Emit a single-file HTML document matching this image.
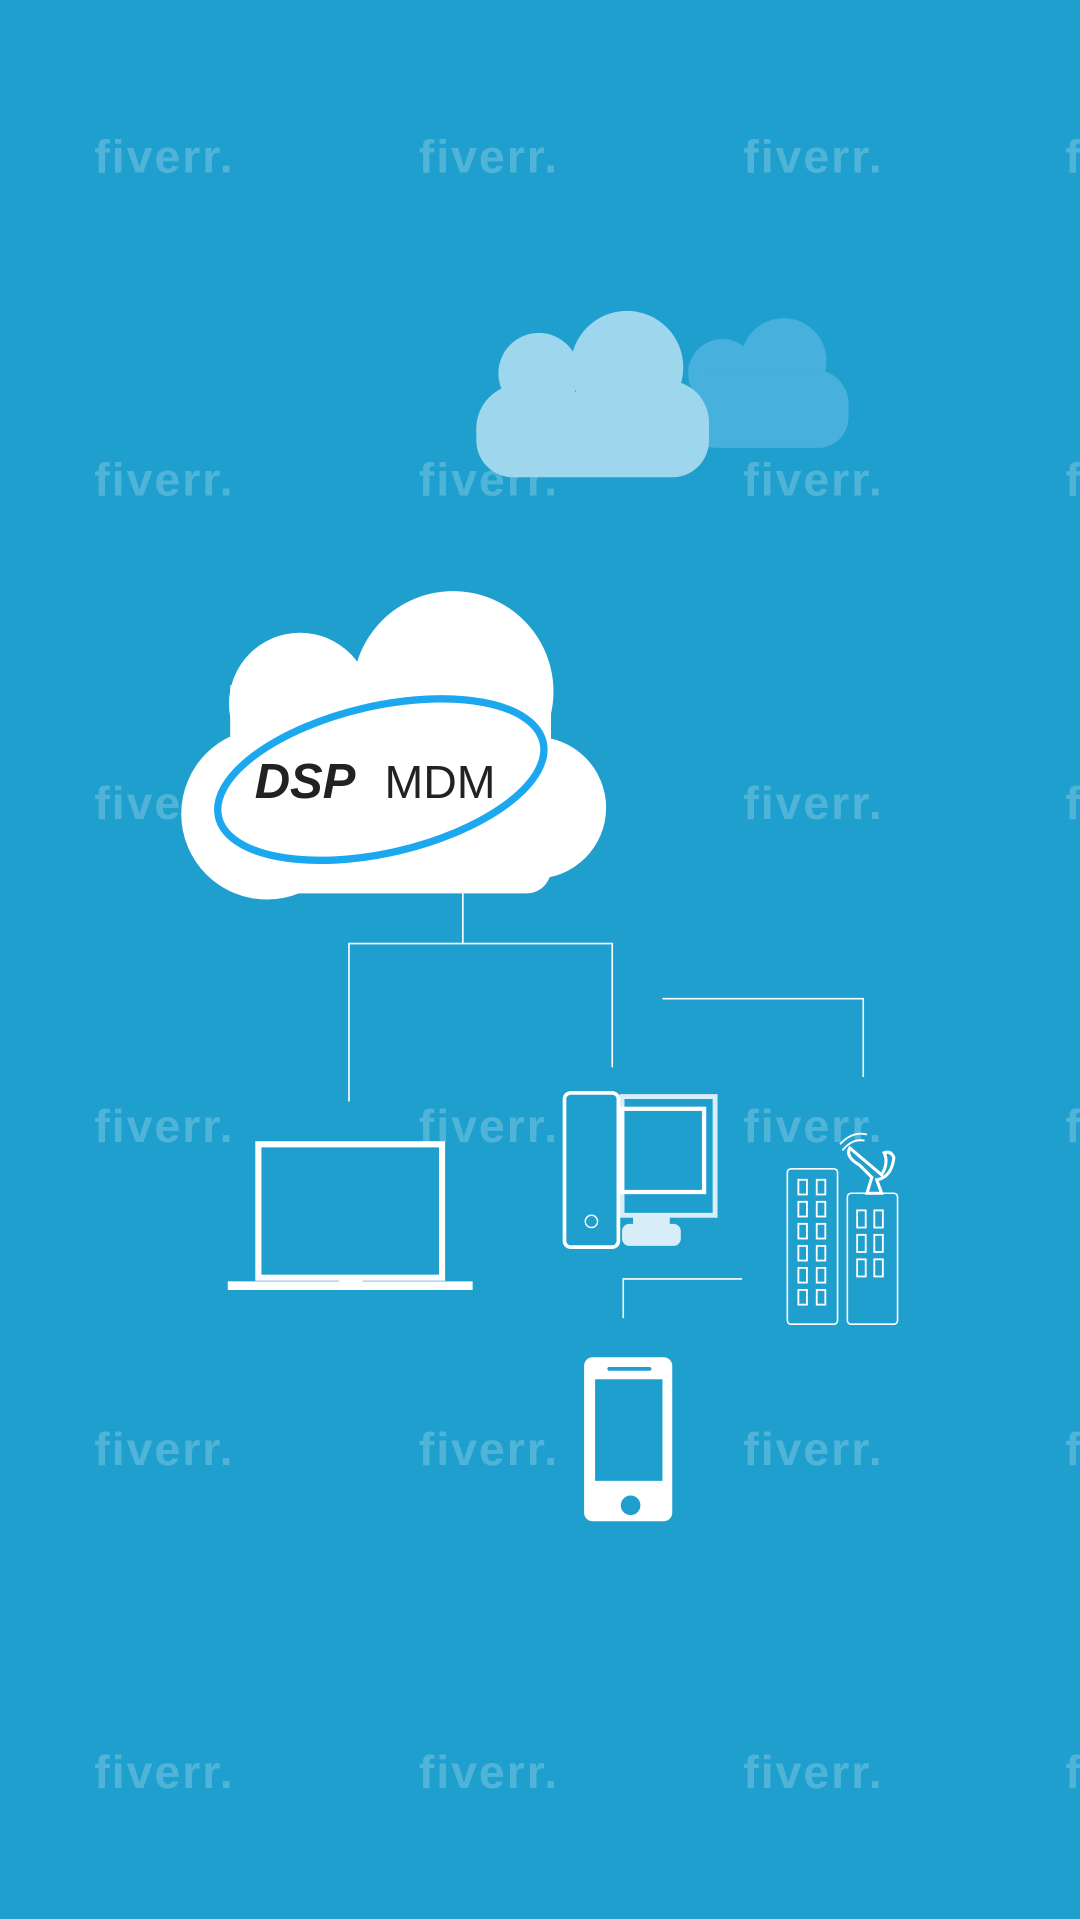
<!DOCTYPE html>
<html><head><style>
html,body{margin:0;padding:0;background:#1f9fcd;}
svg{display:block;}
</style></head><body>
<svg width="1080" height="1919" viewBox="0 0 882 1568" preserveAspectRatio="none" xmlns="http://www.w3.org/2000/svg">
<rect width="882" height="1568" fill="#1f9fcd"/>
<!-- watermarks -->
<g font-family="Liberation Sans, sans-serif" font-weight="bold" font-size="38" fill="#ffffff" fill-opacity="0.22">
<text x="77" y="141" textLength="113">fiverr.</text><text x="342" y="141" textLength="113">fiverr.</text><text x="607" y="141" textLength="113">fiverr.</text><text x="870" y="141" textLength="113">fiverr.</text>
<text x="77" y="405" textLength="113">fiverr.</text><text x="342" y="405" textLength="113">fiverr.</text><text x="607" y="405" textLength="113">fiverr.</text><text x="870" y="405" textLength="113">fiverr.</text>
<text x="77" y="669" textLength="113">fiverr.</text><text x="607" y="669" textLength="113">fiverr.</text><text x="870" y="669" textLength="113">fiverr.</text>
<text x="77" y="933" textLength="113">fiverr.</text><text x="342" y="933" textLength="113">fiverr.</text><text x="607" y="933" textLength="113">fiverr.</text><text x="870" y="933" textLength="113">fiverr.</text>
<text x="77" y="1197" textLength="113">fiverr.</text><text x="342" y="1197" textLength="113">fiverr.</text><text x="607" y="1197" textLength="113">fiverr.</text><text x="870" y="1197" textLength="113">fiverr.</text>
<text x="77" y="1461" textLength="113">fiverr.</text><text x="342" y="1461" textLength="113">fiverr.</text><text x="607" y="1461" textLength="113">fiverr.</text><text x="870" y="1461" textLength="113">fiverr.</text>
</g>
<!-- top clouds -->
<g fill="#47b0dc">
<circle cx="640" cy="295" r="35"/><circle cx="590" cy="305" r="28"/><circle cx="665" cy="330" r="28"/>
<rect x="560" y="305" width="133" height="61" rx="25"/>
</g>
<g fill="#9ed6ee">
<circle cx="512" cy="300" r="46"/><circle cx="440" cy="305" r="33"/><circle cx="545" cy="345" r="34"/><circle cx="425" cy="350" r="36"/>
<rect x="389" y="320" width="190" height="70" rx="30"/>
</g>
<!-- main cloud -->
<g fill="#ffffff">
<circle cx="370" cy="565" r="82"/><circle cx="245" cy="575" r="58"/><circle cx="437" cy="660" r="58"/><circle cx="218" cy="665" r="70"/>
<rect x="188" y="560" width="262" height="110"/>
<rect x="200" y="640" width="250" height="90" rx="20"/>
</g>
<ellipse cx="311" cy="637" rx="136" ry="60" transform="rotate(-13 311 637)" fill="none" stroke="#1ba8ee" stroke-width="6"/>
<text x="208" y="652" font-family="Liberation Sans, sans-serif" font-weight="bold" font-style="italic" font-size="40" fill="#222">DSP</text>
<text x="314" y="652" font-family="Liberation Sans, sans-serif" font-size="38" fill="#222">MDM</text>
<!-- connectors -->
<g stroke="#ffffff" stroke-width="1.3" fill="none">
<path d="M378 730 V771 M285 900 V771 H500 V872"/>
<path d="M541 816 H705 V880"/>
<path d="M606 1045 H509 V1077"/>
</g>
<!-- laptop -->
<rect x="211" y="935" width="150" height="109" fill="none" stroke="#fff" stroke-width="5"/>
<path d="M186 1047 H277 V1044 H296 V1047 H386 V1054 H186 Z" fill="#fff"/>
<!-- desktop -->
<rect x="508" y="896" width="76" height="97" fill="none" stroke="#d7eef8" stroke-width="4"/>
<rect x="508" y="906" width="67" height="68" fill="none" stroke="#fff" stroke-width="3.5"/>
<rect x="517" y="993" width="30" height="10" fill="#d7eef8"/>
<rect x="508" y="1000" width="48" height="18" rx="6" fill="#d7eef8"/>
<rect x="461" y="893" width="44" height="126" rx="5" fill="#1f9fcd" stroke="#fff" stroke-width="3"/>
<circle cx="483" cy="998" r="5" fill="none" stroke="#fff" stroke-width="1.2"/>
<!-- buildings -->
<g fill="none" stroke="#fff" stroke-width="1.3">
<rect x="643" y="955" width="41" height="127" rx="3"/>
<rect x="692" y="975" width="41" height="107" rx="3"/>
<g stroke-width="1.5">
<rect x="652" y="964" width="7" height="12"/><rect x="667" y="964" width="7" height="12"/>
<rect x="652" y="982" width="7" height="12"/><rect x="667" y="982" width="7" height="12"/>
<rect x="652" y="1000" width="7" height="12"/><rect x="667" y="1000" width="7" height="12"/>
<rect x="652" y="1018" width="7" height="12"/><rect x="667" y="1018" width="7" height="12"/>
<rect x="652" y="1036" width="7" height="12"/><rect x="667" y="1036" width="7" height="12"/>
<rect x="652" y="1054" width="7" height="12"/><rect x="667" y="1054" width="7" height="12"/>
<rect x="700" y="989" width="7" height="14"/><rect x="714" y="989" width="7" height="14"/>
<rect x="700" y="1009" width="7" height="14"/><rect x="714" y="1009" width="7" height="14"/>
<rect x="700" y="1029" width="7" height="14"/><rect x="714" y="1029" width="7" height="14"/>
</g>
<path d="M702 952 Q690 945 694 938 L720 960 Q726 950 722 942 Q728 940 730 946 Q728 962 716 964 L720 975 H708 L712 962 Z" stroke-width="2.5"/>
<path d="M688 940 Q696 930 706 932 M686 935 Q696 924 708 927" stroke-width="1.5"/>
</g>
<!-- phone -->
<rect x="477" y="1109" width="72" height="134" rx="7" fill="#fff"/>
<rect x="486" y="1127" width="55" height="83" fill="#1f9fcd"/>
<rect x="496" y="1117" width="36" height="3" rx="1.5" fill="#1f9fcd"/>
<circle cx="515" cy="1230" r="8" fill="#1f9fcd"/>
</svg>
</body></html>
